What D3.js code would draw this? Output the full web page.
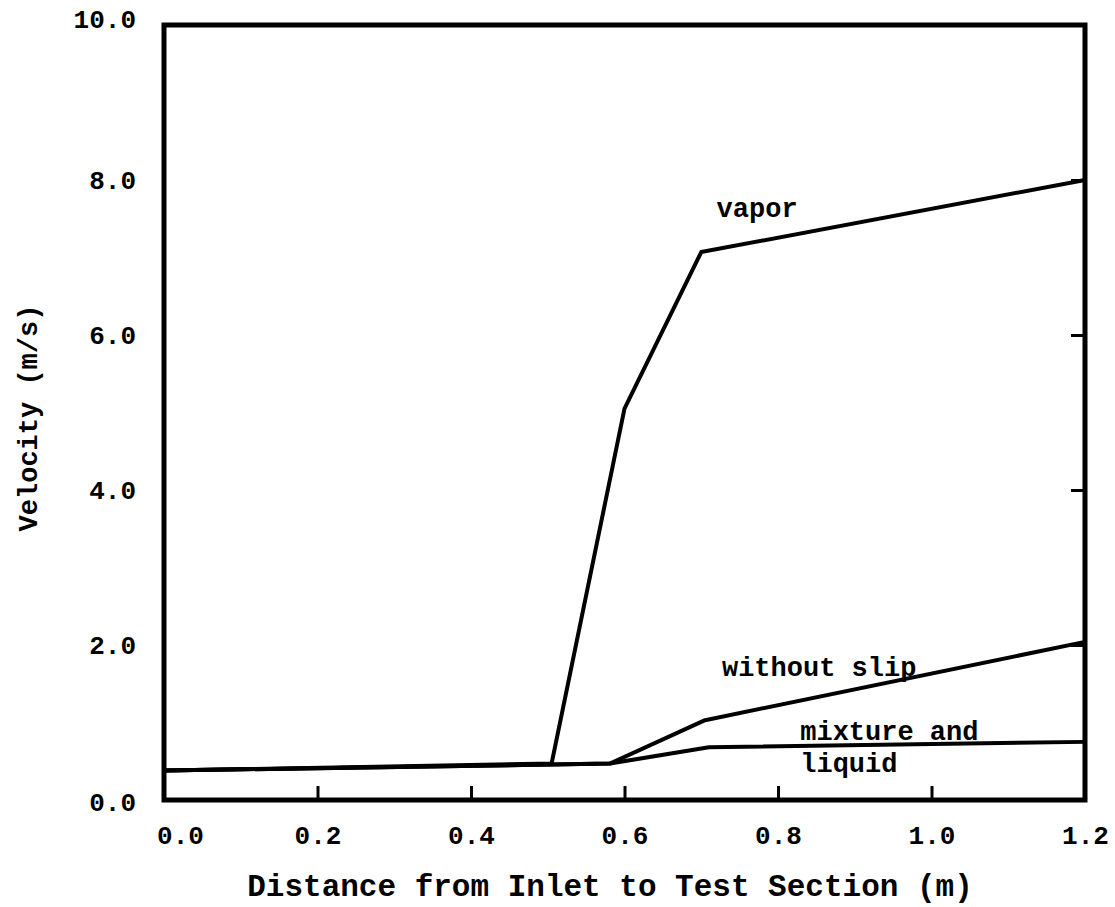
<!DOCTYPE html>
<html>
<head>
<meta charset="utf-8">
<script src="https://cdn.jsdelivr.net/npm/d3@7"></script>
<style>
  html, body { margin: 0; padding: 0; background: #fff; }
  svg { display: block; }
  text { font-family: "Liberation Mono", "DejaVu Sans Mono", monospace; fill: #000; }
</style>
</head>
<body>
<svg id="chart" width="1115" height="907"></svg>
<script>
// Velocity profiles along the test section
const vaporX = [0.0, 0.505, 0.60, 0.70, 1.20];
const vaporY = [0.38, 0.47, 5.05, 7.07, 8.0];

const noSlipX = [0.0, 0.581, 0.705, 1.20];
const noSlipY = [0.38, 0.47, 1.03, 2.04];

const liquidX = [0.0, 0.581, 0.71, 1.20];
const liquidY = [0.38, 0.47, 0.68, 0.75];

const xTicks = [0.0, 0.2, 0.4, 0.6, 0.8, 1.0, 1.2];
const yTicks = [0.0, 2.0, 4.0, 6.0, 8.0, 10.0];

const xTitle = "Distance from Inlet to Test Section (m)";
const yTitle = "Velocity (m/s)";

const curveLabels = [
  { text: "vapor", x: 0.720, y: 7.52 },
  { text: "without slip", x: 0.727, y: 1.60 },
  { text: "mixture and", x: 0.829, y: 0.78 },
  { text: "liquid", x: 0.829, y: 0.36 }
];

const svg = d3.select("#chart");
const plotL = 164, plotR = 1085, plotT = 25, plotB = 800;

const x = d3.scaleLinear().domain([0, 1.2]).range([plotL, plotR]);
const y = d3.scaleLinear().domain([0, 10]).range([plotB, plotT]);

// bottom axis: inward ticks, labels underneath
const xAxis = svg.append("g")
  .attr("transform", `translate(0,${plotB})`)
  .call(d3.axisBottom(x).tickValues(xTicks).tickSizeInner(-14).tickSizeOuter(0)
    .tickPadding(26).tickFormat(d3.format(".1f")));
xAxis.select(".domain").remove();
xAxis.selectAll(".tick line").attr("stroke", "#000").attr("stroke-width", 3);
xAxis.selectAll(".tick text")
  .attr("font-size", 26).attr("font-weight", "bold")
  .attr("dx", (d, i) => i === 0 ? 16 : 0);

// left axis: labels only
const yAxis = svg.append("g")
  .attr("transform", `translate(${plotL},0)`)
  .call(d3.axisLeft(y).tickValues(yTicks).tickSize(0).tickPadding(28)
    .tickFormat(d3.format(".1f")));
yAxis.select(".domain").remove();
yAxis.selectAll(".tick text")
  .attr("font-size", 26).attr("font-weight", "bold")
  .attr("dy", (d) => d === 10 ? "0.1em" : d === 0 ? "0.4em" : "0.32em");

// right axis: inward ticks, no labels
const rAxis = svg.append("g")
  .attr("transform", `translate(${plotR},0)`)
  .call(d3.axisRight(y).tickValues(yTicks.filter(d => d > 0 && d < 10))
    .tickSizeInner(-14).tickSizeOuter(0).tickFormat(""));
rAxis.select(".domain").remove();
rAxis.selectAll(".tick line").attr("stroke", "#000").attr("stroke-width", 3);

// plot frame
svg.append("rect")
  .attr("x", plotL).attr("y", plotT)
  .attr("width", plotR - plotL).attr("height", plotB - plotT)
  .attr("fill", "none").attr("stroke", "#000").attr("stroke-width", 5);

// curves
const line = d3.line().x(d => x(d[0])).y(d => y(d[1]));
const series = [
  d3.zip(vaporX, vaporY),
  d3.zip(noSlipX, noSlipY),
  d3.zip(liquidX, liquidY)
];
svg.append("g").selectAll("path")
  .data(series)
  .join("path")
  .attr("d", line)
  .attr("fill", "none")
  .attr("stroke", "#000")
  .attr("stroke-width", 4)
  .attr("stroke-linejoin", "round");

// curve labels
svg.append("g").selectAll("text")
  .data(curveLabels)
  .join("text")
  .attr("x", d => x(d.x))
  .attr("y", d => y(d.y))
  .attr("font-size", 27)
  .attr("font-weight", "bold")
  .text(d => d.text);

// axis titles
svg.append("text")
  .attr("x", 610).attr("y", 896)
  .attr("text-anchor", "middle")
  .attr("font-size", 31).attr("font-weight", "bold")
  .text(xTitle);

svg.append("text")
  .attr("transform", `translate(37,418) rotate(-90)`)
  .attr("text-anchor", "middle")
  .attr("font-size", 27).attr("font-weight", "bold")
  .text(yTitle);
</script>
</body>
</html>
